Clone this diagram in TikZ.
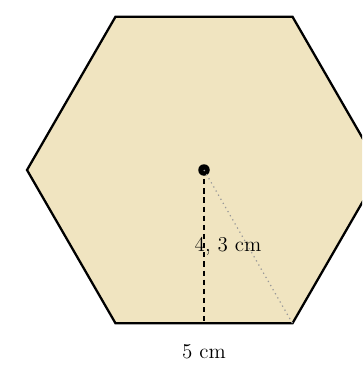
\documentclass[tikz,border=0pt]{standalone}
\definecolor{hexfill}{RGB}{240,228,192}
\begin{document}
\begin{tikzpicture}[x=0.02cm, y=-0.02cm, hexagon/.style={draw, fill=hexfill, line width=1.3pt, line join=miter}, apothem/.style={dash pattern=on 3pt off 2.2pt, line width=1.3pt}, spoke/.style={dotted, gray!80, line width=0.7pt}, centre/.style={circle, fill, inner sep=0pt, minimum size=0.23cm}, every node/.append style={font=\large}]
		\clip (0,0) rectangle (362,365);
		\foreach \i in {0,...,5} {
			\coordinate (v\i) at ({204+177*cos(\i*60)}, {170+177*sin(\i*60)});
		}
		\draw[hexagon] (v0) -- (v1) -- (v2) -- (v3) -- (v4) -- (v5) -- cycle;
		\node[centre] (c) at (204,170) {};
		\coordinate (m) at (204,323.3);
		\draw[apothem] (c.center) -- (m);
		\draw[spoke] (c.center) -- (v1);
		\node (apo) at (228,246) {4, 3 cm};
		\node (side) at (204,352) {5 cm};
	\end{tikzpicture}
\end{document}
